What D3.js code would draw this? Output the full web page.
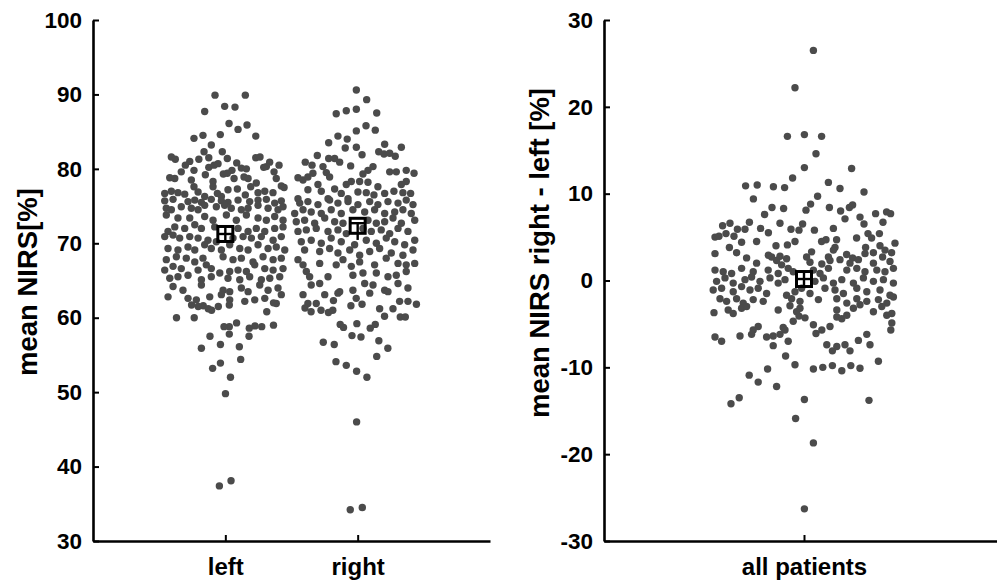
<!DOCTYPE html>
<html>
<head>
<meta charset="utf-8">
<script src="https://cdn.jsdelivr.net/npm/d3@7"></script>
<style>
  html, body { margin: 0; padding: 0; background: #fff; }
  svg { display: block; }
  text { font-family: "Liberation Sans", Arial, sans-serif; font-weight: bold; fill: #000; }
</style>
</head>
<body>
<svg id="chart" width="997" height="581"></svg>
<script>
// ---------- DATA ----------
const groupCategories = ["left", "right"];
const diffCategories = ["all patients"];
const groupTicks = [30, 40, 50, 60, 70, 80, 90, 100];
const diffTicks = [-30, -20, -10, 0, 10, 20, 30];
const groupTitle = "mean NIRS[%]";
const diffTitle = "mean NIRS right - left [%]";

// [jitter (category units), value]
const leftPoints = [
[-0.078,89.9],[0.151,89.9],[-0.005,88.4],[0.073,88.3],[-0.156,87.7],[0.028,86.1],[0.096,85.3],[0.164,85.9],[-0.038,84.6],[-0.169,84.5],[-0.237,84.1],[0.230,84.4],[-0.106,83.2],[-0.161,82.3],[-0.023,82.3],[-0.408,81.6],[-0.378,81.3],[-0.200,81.3],[-0.125,81.5],[0.015,81.4],[0.230,81.5],[0.262,81.6],[-0.269,81.0],[-0.302,80.5],[0.335,80.9],[-0.055,80.7],[0.086,80.8],[0.406,80.5],[0.310,80.3],[-0.125,80.2],[-0.085,80.5],[-0.333,79.6],[-0.237,79.8],[0.050,79.8],[0.121,80.1],[0.159,80.0],[0.368,79.6],[0.290,80.2],[-0.151,79.2],[-0.015,79.3],[0.015,79.4],[-0.420,78.8],[-0.382,78.7],[0.066,78.7],[0.141,78.9],[0.172,78.7],[0.385,78.7],[-0.257,78.5],[-0.093,78.3],[0.234,78.1],[0.423,77.7],[0.444,77.5],[-0.458,76.7],[-0.408,77.0],[-0.358,76.8],[-0.307,76.6],[-0.237,77.6],[-0.206,76.9],[-0.093,77.6],[-0.060,76.7],[0.020,77.2],[0.091,77.3],[0.192,77.6],[0.247,76.8],[0.298,77.0],[0.360,76.8],[-0.156,76.3],[-0.030,76.3],[0.151,76.5],
[-0.458,75.7],[-0.395,75.9],[-0.282,75.6],[-0.231,75.8],[-0.181,75.5],[-0.106,75.9],[-0.030,75.7],[0.020,75.5],[0.096,75.8],[0.184,75.6],[0.247,75.8],[0.310,75.9],[0.373,75.4],[0.423,75.7],
[-0.446,74.7],[-0.408,74.5],[-0.333,74.9],[-0.257,74.7],[-0.206,74.5],[-0.156,75.1],[-0.068,74.9],[-0.005,75.1],[0.045,74.7],[0.121,74.5],[0.172,74.7],[0.247,75.1],[0.323,74.7],[0.398,74.5],[0.436,74.9],
[-0.358,73.4],[-0.269,73.4],[-0.156,73.6],[-0.093,73.1],[0.083,73.1],[0.159,73.8],[0.247,73.4],[0.310,73.1],[0.373,73.6],[0.436,73.1],[-0.446,73.8],[0.008,73.8],
[-0.433,71.6],[-0.382,72.2],[-0.307,72.0],[-0.231,72.5],[-0.181,72.0],[-0.080,72.2],[0.096,72.0],[0.172,71.6],[0.234,72.0],[0.298,71.6],[0.373,72.0],[0.436,72.2],
[-0.458,70.9],[-0.395,71.1],[-0.345,70.7],[-0.269,70.9],[-0.206,70.7],[-0.131,70.4],[-0.068,70.2],[0.058,70.7],[0.134,70.9],[0.197,70.7],[0.272,70.9],[0.361,70.4],[0.423,70.9],
[-0.433,69.3],[-0.358,69.1],[-0.282,69.5],[-0.231,69.1],[-0.156,69.8],[-0.106,69.3],[-0.030,69.1],[0.033,69.8],[0.109,69.3],[0.172,69.1],[0.247,69.8],[0.323,69.3],[0.385,69.5],[0.449,69.1],
[-0.446,67.8],[-0.370,68.2],[-0.295,68.0],[-0.231,67.5],[-0.169,68.0],[-0.017,68.2],[0.058,67.8],[0.121,68.0],[0.209,67.5],[0.285,68.2],[0.361,67.8],[0.423,68.0],
[-0.458,66.4],[-0.395,66.9],[-0.333,66.6],[-0.206,66.4],[-0.144,67.1],[-0.106,66.6],[-0.042,66.0],[0.033,66.2],[0.096,66.4],[0.159,66.2],[0.222,67.1],[0.298,66.6],[0.361,66.4],[0.436,66.6],
[-0.420,65.3],[-0.358,65.5],[-0.282,65.7],[-0.181,65.1],[-0.106,65.5],[0.020,65.3],[0.109,65.1],[0.184,65.5],[0.272,65.1],[0.336,65.3],[0.411,65.5],
[-0.395,64.2],[-0.320,63.7],[-0.181,64.4],[-0.017,63.7],[0.033,63.5],[0.121,64.0],[0.172,63.5],[0.260,64.4],[0.323,63.7],[0.398,64.0],
[-0.433,62.8],[-0.282,62.6],[-0.219,62.4],[-0.118,62.8],[-0.030,63.1],[0.033,62.4],[0.147,62.2],[0.222,62.4],[0.298,62.6],[0.385,61.9],[0.423,63.1],
[-0.369,60.0],[-0.235,60.0],[-0.255,61.7],[-0.205,61.5],[-0.167,61.6],[-0.129,61.2],[-0.104,61.0],[-0.053,61.5],[0.030,61.7],[0.313,60.8],[0.364,62.0],
[0.275,58.8],[0.224,58.9],[0.364,59.0],[0.085,59.3],[0.030,58.8],[-0.010,58.8],[0.181,58.6],[0.179,57.5],[0.030,57.8],[-0.116,57.5],[0.106,56.1],[-0.181,55.9],[-0.037,56.4],[0.116,54.4],[-0.096,53.2],[-0.037,53.9],[0.039,52.0],[0.001,49.8],[-0.045,37.4],[0.043,38.1]
];

const rightPoints = [
[-0.010,90.6],[0.068,89.3],[-0.162,87.4],[-0.086,87.8],[-0.010,88.0],[0.144,87.5],[-0.010,85.1],[0.063,85.8],[0.133,85.2],[-0.149,84.4],[-0.079,84.0],[-0.219,83.5],[-0.094,82.8],[-0.010,82.9],[0.204,83.3],[0.330,82.9],[-0.305,81.8],[0.033,81.9],[0.159,82.3],[0.199,82.0],[0.242,82.1],[0.284,81.7],[-0.219,81.4],[-0.174,81.4],[-0.136,80.9],[-0.396,80.9],[-0.345,80.5],[-0.262,80.3],[-0.053,80.4],[0.116,80.3],[0.078,79.8],[0.242,79.6],[0.292,79.6],[0.367,79.8],[0.426,79.4],[-0.338,79.4],[-0.237,79.5],[0.040,79.3],[-0.451,78.8],[-0.413,78.5],[-0.376,78.9],[-0.212,78.9],[0.015,78.3],[0.078,78.2],[0.367,78.3],[0.330,77.9],[-0.300,77.9],[-0.086,77.9],[-0.048,78.3],[0.153,77.6],[-0.376,77.2],[-0.275,77.0],[-0.174,77.3],[-0.124,76.7],[0.002,76.9],[0.065,76.8],[0.123,76.5],[0.204,76.7],[0.274,77.0],[0.342,76.8],[0.400,76.7],[-0.451,76.0],[-0.224,76.0],[-0.073,76.0],
[-0.438,75.4],[-0.376,75.6],[-0.300,75.2],[-0.212,75.8],[-0.149,75.4],[-0.073,75.6],[0.002,75.2],[0.091,75.6],[0.153,75.2],[0.229,75.6],[0.305,75.4],[0.367,75.8],[0.418,75.2],
[-0.476,74.0],[-0.413,74.5],[-0.351,74.2],[-0.275,74.0],[-0.200,74.5],[-0.124,74.0],[0.053,74.2],[0.128,74.5],[0.204,74.0],[0.280,74.2],[0.342,74.5],[0.405,74.0],[-0.036,74.5],
[-0.464,72.9],[-0.401,73.1],[-0.325,72.7],[-0.249,73.4],[-0.174,72.9],[-0.111,72.7],[0.078,73.1],[0.141,72.7],[0.204,72.9],[0.267,73.4],[0.330,72.7],[0.431,73.1],
[-0.451,71.6],[-0.388,71.8],[-0.313,72.0],[-0.224,71.6],[-0.149,71.8],[-0.086,71.3],[0.040,72.0],[0.103,71.6],[0.178,71.8],[0.242,71.3],[0.305,72.0],[0.380,71.6],
[-0.426,70.2],[-0.351,70.4],[-0.275,70.0],[-0.200,70.7],[-0.124,70.2],[-0.023,69.8],[0.065,70.4],[0.141,70.0],[0.216,70.7],[0.280,70.2],[0.355,69.8],[0.431,70.4],
[-0.401,69.1],[-0.287,68.9],[-0.212,69.3],[-0.149,68.7],[-0.060,69.1],[0.015,68.4],[0.091,68.9],[0.166,69.3],[0.254,68.7],[0.342,68.4],[0.418,69.1],
[-0.451,67.8],[-0.413,67.1],[-0.287,67.3],[-0.162,67.1],[-0.111,67.8],[-0.048,66.9],[0.015,67.5],[0.128,67.1],[0.216,68.0],[0.305,67.3],[0.367,67.1],[0.431,67.3],
[-0.388,66.2],[-0.363,65.5],[-0.224,65.5],[-0.036,65.7],[0.040,66.0],[0.141,66.0],[0.229,65.5],[0.292,65.7],[0.367,66.2],
[-0.351,64.4],[-0.287,64.6],[-0.136,63.5],[-0.036,63.7],[0.053,64.6],[0.116,64.4],[0.204,63.7],[0.305,64.6],[0.380,64.0],
[-0.413,63.1],[-0.249,63.1],[-0.149,63.3],[-0.011,62.6],[0.091,63.3],[0.229,63.5],[0.317,62.2],[0.380,62.2],[-0.376,61.9],[-0.313,61.9],
[-0.398,61.3],[-0.352,60.8],[-0.277,61.0],[-0.221,60.7],[-0.188,61.0],[-0.183,62.3],[-0.051,61.6],[0.033,61.8],[0.166,61.2],[0.203,60.2],[0.267,61.2],[0.322,60.1],[0.360,60.1],[0.444,61.8],
[-0.132,59.1],[-0.107,58.7],[-0.006,59.2],[0.095,58.6],[0.133,59.1],[-0.043,57.6],[0.025,57.4],[0.160,56.9],[0.228,55.9],[-0.260,56.7],[-0.177,56.4],[-0.164,54.1],[-0.086,53.6],[0.144,54.8],[-0.008,52.8],[0.070,52.0],[-0.008,46.0],[-0.056,34.2],[0.035,34.5]
];

const diffPoints = [
[0.047,26.5],[-0.045,22.2],[-0.083,16.6],[0.002,16.8],[0.088,16.6],[0.060,14.6],[0.002,13.0],[0.238,12.9],[-0.057,11.8],[0.122,11.3],[-0.292,10.9],[-0.234,11.0],[-0.153,10.8],[-0.097,10.7],[0.180,10.6],[0.300,10.2],[-0.253,9.4],[0.068,9.7],
[0.033,8.8],[0.010,8.1],[-0.160,8.4],[-0.102,8.3],[-0.197,7.6],[0.127,8.4],[0.183,8.0],[0.227,8.4],[0.243,8.7],[0.205,7.1],[0.280,7.3],[0.358,7.7],[0.413,7.9],[0.433,7.7],[-0.273,6.7],[-0.370,6.6],[-0.407,6.3],[-0.120,6.6],[-0.007,6.5],[0.300,6.5],[0.395,6.7],[-0.333,5.9],[-0.295,5.9],[-0.217,6.0],[-0.065,5.9],[-0.025,5.8],[0.052,5.8],[0.147,6.0],[-0.178,5.5],[-0.445,5.0],[-0.425,5.1],[-0.390,5.4],[-0.350,5.1],[0.320,5.4],[0.338,4.9],[0.377,5.4],[0.263,4.9],[-0.312,4.4],[-0.237,4.5],[-0.045,4.5],[0.088,4.5],[0.110,4.7],[0.163,4.7],[0.455,4.3],[-0.373,3.8],[-0.140,4.0],[-0.083,4.1],[0.155,3.8],[0.308,3.8],[0.380,4.0],[0.405,3.5],[-0.445,3.1],[-0.337,3.2],[-0.178,2.9],[-0.120,2.8],[0.038,3.3],[0.147,3.5],[0.213,3.0],[0.305,3.1],[0.347,3.2],[0.438,3.2],[-0.287,2.6],[-0.162,2.7],[0.013,2.7],[0.122,2.7],[0.243,2.6],[0.393,2.7],
[-0.237,2.0],[-0.137,2.3],[-0.112,1.8],[-0.087,2.5],[0.030,2.1],[0.089,1.9],[0.130,2.3],[0.180,2.4],[0.230,2.0],[0.272,2.4],[0.347,2.0],[0.430,2.2],
[-0.445,1.2],[-0.404,1.0],[-0.362,0.8],[-0.312,1.4],[-0.254,1.0],[-0.179,1.2],[-0.129,0.8],[-0.079,1.4],[-0.054,1.0],[0.047,1.2],[0.080,0.8],[0.122,1.4],[0.214,1.2],[0.264,1.4],[0.305,1.0],[0.364,1.2],[0.405,1.0],[0.447,1.4],
[-0.437,-0.1],[-0.395,0.3],[-0.354,-0.3],[-0.295,0.1],[-0.262,0.4],[-0.220,-0.1],[-0.170,0.3],[-0.129,-0.3],[-0.095,0.1],[0.055,-0.1],[0.097,0.3],[0.147,-0.3],[0.189,0.1],[0.247,-0.3],[0.297,0.3],[0.347,-0.1],[0.397,0.1],[0.447,-0.3],
[-0.454,-1.1],[-0.412,-0.9],[-0.354,-1.3],[-0.312,-0.7],[-0.270,-1.1],[-0.229,-0.9],[-0.187,-1.5],[-0.087,-1.7],[-0.045,-1.3],[-0.012,-0.9],[0.030,-1.5],[0.105,-0.9],[0.155,-1.1],[0.197,-1.5],[0.264,-0.9],[0.314,-1.3],[0.380,-1.1],[0.430,-1.7],
[-0.420,-2.1],[-0.387,-2.4],[-0.337,-2.1],[-0.304,-2.6],[-0.254,-2.2],[-0.204,-2.4],[-0.062,-2.1],[-0.020,-2.4],[0.072,-2.2],[0.164,-2.1],[0.214,-2.6],[0.264,-2.1],[0.314,-2.4],[0.372,-2.2],[0.414,-2.6],[0.447,-1.9],
[-0.450,-3.7],[-0.379,-3.4],[-0.354,-3.8],[-0.312,-3.2],[-0.287,-3.0],[-0.129,-3.4],[-0.070,-2.9],[-0.037,-3.6],[-0.020,-3.2],[0.164,-3.4],[0.247,-3.2],[0.280,-2.8],[0.347,-3.6],[0.389,-3.0],[0.414,-4.0],[0.439,-3.8],
[0.005,-4.3],[0.047,-5.1],[-0.054,-4.7],[0.164,-4.2],[0.189,-4.4],[0.214,-4.0],[0.089,-5.7],[0.130,-5.3],[0.439,-4.9],[-0.229,-5.3],[-0.254,-5.7],[-0.104,-5.4],
[-0.445,-6.5],[-0.412,-7.0],[-0.320,-6.4],[-0.262,-6.2],[-0.187,-6.5],[-0.154,-6.4],[-0.120,-6.2],[-0.079,-7.0],[-0.154,-7.5],[0.114,-7.4],[0.164,-7.6],[0.205,-7.4],[0.272,-6.9],[0.314,-6.2],[0.330,-7.4],
[-0.095,-5.7],[-0.092,-8.7],[-0.045,-9.7],[-0.182,-10.2],[-0.274,-10.9],[-0.229,-11.7],[-0.137,-12.2],[-0.365,-14.2],[-0.324,-13.5],[0.002,-13.7],[-0.042,-15.9],[0.047,-18.7],[0.002,-26.3],[-0.025,-4.1],[0.060,-6.1],[0.047,-10.2],[0.094,-10.0],[0.142,-9.8],[0.189,-10.4],[0.234,-9.8],[0.280,-10.1],[0.142,-8.1],[0.230,-8.1],[0.372,-9.3],[0.325,-13.8],[0.434,-5.7]
];

// summary markers: mean (square), error bar lo/hi, horizontal bar value
const groupMeans = [71.25, 72.35];
const groupErrLo = [70.3, 70.45];
const groupErrHi = [72.2, 72.7];
const groupBar = [71.25, 72.7];
const diffMean = [0.17];
const diffErrLo = [-0.7];
const diffErrHi = [1.0];
const diffBar = [0.17];

// ---------- DRAW ----------
const svg = d3.select("#chart");
const dotColor = "#4b4b4b";
const dotR = 3.7;
const fmt = d => String(d); // hyphen-minus as in the reference

function styleAxis(g) {
  g.select(".domain").attr("stroke", "#000").attr("stroke-width", 2.6);
  g.selectAll(".tick line").attr("stroke", "#000").attr("stroke-width", 2);
}

function drawMarker(g, cx, cy, yLo, yHi, yBar) {
  const h = 7.5;
  g.append("line").attr("x1", cx).attr("x2", cx).attr("y1", yHi).attr("y2", yLo)
    .attr("stroke", "#000").attr("stroke-width", 2.4);
  g.append("line").attr("x1", cx - h).attr("x2", cx + h).attr("y1", yBar).attr("y2", yBar)
    .attr("stroke", "#000").attr("stroke-width", 2.4);
  g.append("rect").attr("x", cx - h).attr("y", cy - h).attr("width", 2 * h).attr("height", 2 * h)
    .attr("fill", "none").attr("stroke", "#000").attr("stroke-width", 3);
}

// Left panel
const xL = d3.scaleLinear().domain([0, 3]).range([93, 490]);
const yL = d3.scaleLinear().domain([30, 100]).range([541, 20]);
const gL = svg.append("g");

const groups = [leftPoints, rightPoints];
groups.forEach((pts, gi) => {
  gL.append("g").selectAll("circle").data(pts).join("circle")
    .attr("cx", d => xL(gi + 1 + d[0]))
    .attr("cy", d => yL(d[1]))
    .attr("r", dotR)
    .attr("fill", dotColor);
});
groupMeans.forEach((m, i) => {
  drawMarker(gL, xL(i + 1), yL(m), yL(groupErrLo[i]), yL(groupErrHi[i]), yL(groupBar[i]));
});

const axL = gL.append("g").attr("transform", "translate(93,0)")
  .call(d3.axisLeft(yL).tickValues(groupTicks).tickFormat(fmt).tickSizeInner(-6).tickSizeOuter(0).tickPadding(11));
axL.selectAll("text").style("font-size", "22.5px");
styleAxis(axL);

const axLx = gL.append("g").attr("transform", "translate(0,541)")
  .call(d3.axisBottom(xL).tickValues([1, 2]).tickFormat(d => groupCategories[d - 1])
    .tickSizeInner(-6).tickSizeOuter(0).tickPadding(17));
axLx.selectAll("text").style("font-size", "24px");
styleAxis(axLx);

gL.append("text").attr("transform", "translate(37,282) rotate(-90)")
  .attr("text-anchor", "middle").style("font-size", "27.5px").text(groupTitle);

// Right panel
const xR = d3.scaleLinear().domain([0, 2]).range([604, 1004]);
const yR = d3.scaleLinear().domain([-30, 30]).range([541, 20]);
const gR = svg.append("g");

gR.append("g").selectAll("circle").data(diffPoints).join("circle")
  .attr("cx", d => xR(1 + d[0]))
  .attr("cy", d => yR(d[1]))
  .attr("r", dotR)
  .attr("fill", dotColor);
diffMean.forEach((m, i) => {
  drawMarker(gR, xR(i + 1), yR(m), yR(diffErrLo[i]), yR(diffErrHi[i]), yR(diffBar[i]));
});

const axR = gR.append("g").attr("transform", "translate(604,0)")
  .call(d3.axisLeft(yR).tickValues(diffTicks).tickFormat(fmt).tickSizeInner(-6).tickSizeOuter(0).tickPadding(11));
axR.selectAll("text").style("font-size", "22.5px");
styleAxis(axR);

const axRx = gR.append("g").attr("transform", "translate(0,541)")
  .call(d3.axisBottom(xR).tickValues([1]).tickFormat(d => diffCategories[d - 1])
    .tickSizeInner(-6).tickSizeOuter(0).tickPadding(17));
axRx.selectAll("text").style("font-size", "24px");
styleAxis(axRx);

gR.append("text").attr("transform", "translate(549,253) rotate(-90)")
  .attr("text-anchor", "middle").style("font-size", "27.5px").text(diffTitle);
</script>
</body>
</html>
